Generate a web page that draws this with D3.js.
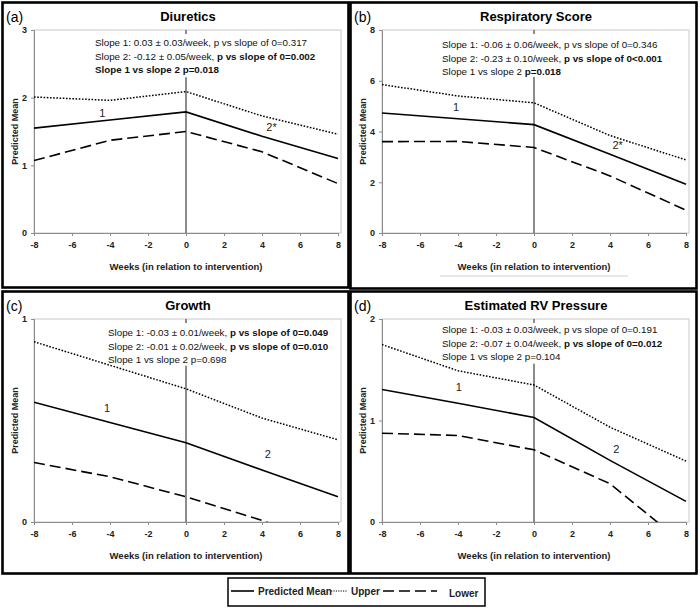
<!DOCTYPE html>
<html>
<head>
<meta charset="utf-8">
<script src="https://cdn.jsdelivr.net/npm/d3@7/dist/d3.min.js"></script>
<style>
  body { margin: 0; background: #fff; }
  svg { font-family: "Liberation Sans Narrow", "Arial Narrow", "Liberation Sans", Arial, sans-serif; }
</style>
</head>
<body>
<div id="chart"></div>
<script>
// Chart data
const weeks = [-8, -4, 0, 4, 8];
const xTicks = [-8, -6, -4, -2, 0, 2, 4, 6, 8];

const diureticsMean = [1.55, 1.67, 1.79, 1.43, 1.10];
const diureticsUpper = [2.01, 1.96, 2.09, 1.73, 1.46];
const diureticsLower = [1.07, 1.37, 1.50, 1.20, 0.73];
const diureticsTicks = [0, 1, 2, 3];

const respMean = [4.73, 4.50, 4.27, 3.10, 1.92];
const respUpper = [5.85, 5.40, 5.13, 3.84, 2.88];
const respLower = [3.60, 3.61, 3.37, 2.25, 0.90];
const respTicks = [0, 2, 4, 6, 8];

const growthMean = [0.59, 0.49, 0.39, 0.256, 0.124];
const growthUpper = [0.888, 0.772, 0.656, 0.512, 0.405];
const growthLower = [0.293, 0.223, 0.124, 0.008, -0.13];
const growthTicks = [0, 1];

const rvMean = [1.305, 1.17, 1.03, 0.607, 0.203];
const rvUpper = [1.748, 1.49, 1.35, 0.934, 0.60];
const rvLower = [0.875, 0.852, 0.711, 0.377, -0.23];
const rvTicks = [0, 1, 2];

const legendLabels = ['Predicted Mean', 'Upper', 'Lower'];

// annotation lines: each an array of [text, bold]
const panels = [
  {
    letter: '(a)', title: 'Diuretics', ox: 0, oy: 0, h: 285,
    yMax: 3, ticks: diureticsTicks, vTop: 2.3,
    mean: diureticsMean, upper: diureticsUpper, lower: diureticsLower,
    label1: { x: -4.4, y: 1.75, t: '1' }, label2: { x: 4.5, y: 1.55, t: '2*' },
    noteX: 95, noteY: 43,
    notes: [
      [['Slope 1: 0.03 ± 0.03/week, p vs slope of 0=0.317', false]],
      [['Slope 2: -0.12 ± 0.05/week, ', false], ['p vs slope of 0=0.002', true]],
      [['Slope 1 vs slope 2 p=0.018', true]]
    ]
  },
  {
    letter: '(b)', title: 'Respiratory Score', ox: 348, oy: 0, h: 286,
    yMax: 8, ticks: respTicks, vTop: 6.15,
    mean: respMean, upper: respUpper, lower: respLower,
    label1: { x: -4.1, y: 4.92, t: '1' }, label2: { x: 4.4, y: 3.44, t: '2*' },
    noteX: 94, noteY: 45, underline: true,
    notes: [
      [['Slope 1: -0.06 ± 0.06/week, p vs slope of 0=0.346', false]],
      [['Slope 2: -0.23 ± 0.10/week, ', false], ['p vs slope of 0<0.001', true]],
      [['Slope 1 vs slope 2 ', false], ['p=0.018', true]]
    ]
  },
  {
    letter: '(c)', title: 'Growth', ox: 0, oy: 289, h: 282,
    yMax: 1, ticks: growthTicks, vTop: 0.77,
    mean: growthMean, upper: growthUpper, lower: growthLower,
    label1: { x: -4.15, y: 0.554, t: '1' }, label2: { x: 4.3, y: 0.33, t: '2' },
    noteX: 108, noteY: 44,
    notes: [
      [['Slope 1: -0.03 ± 0.01/week, ', false], ['p vs slope of 0=0.049', true]],
      [['Slope 2: -0.01 ± 0.02/week, ', false], ['p vs slope of 0=0.010', true]],
      [['Slope 1 vs slope 2 p=0.698', false]]
    ]
  },
  {
    letter: '(d)', title: 'Estimated RV Pressure', ox: 348, oy: 289, h: 282,
    yMax: 2, ticks: rvTicks, vTop: 1.56,
    mean: rvMean, upper: rvUpper, lower: rvLower,
    label1: { x: -3.96, y: 1.318, t: '1' }, label2: { x: 4.33, y: 0.705, t: '2' },
    noteX: 94, noteY: 41,
    notes: [
      [['Slope 1: -0.03 ± 0.03/week, p vs slope of 0=0.191', false]],
      [['Slope 2: -0.07 ± 0.04/week, ', false], ['p vs slope of 0=0.012', true]],
      [['Slope 1 vs slope 2 p=0.104', false]]
    ]
  }
];

const width = 700;
const height = 610;
const plot = { left: 34, right: 338, top: 30, bottom: 233 };

const svg = d3.select('#chart')
  .append('svg')
  .attr('width', width)
  .attr('height', height);

function drawPanel(p, i) {
  const g = svg.append('g').attr('transform', `translate(${p.ox},${p.oy})`);

  // outer panel border
  g.append('rect')
    .attr('x', 2.5).attr('y', 2.5)
    .attr('width', 346).attr('height', p.h)
    .attr('fill', 'none')
    .attr('stroke', '#000')
    .attr('stroke-width', 2.6);

  const x = d3.scaleLinear().domain([-8, 8]).range([plot.left, plot.right]);
  const y = d3.scaleLinear().domain([0, p.yMax]).range([plot.bottom, plot.top]);

  // plot frame
  g.append('rect')
    .attr('x', plot.left).attr('y', plot.top)
    .attr('width', plot.right - plot.left + 3)
    .attr('height', plot.bottom - plot.top)
    .attr('fill', 'none')
    .attr('stroke', '#c8c8c8')
    .attr('stroke-width', 1);

  // axes
  const fmt = d => String(d);
  const xAxis = g.append('g')
    .attr('transform', `translate(0,${plot.bottom})`)
    .call(d3.axisBottom(x).tickValues(xTicks).tickFormat(fmt).tickSize(3).tickPadding(6));
  const yAxis = g.append('g')
    .attr('transform', `translate(${plot.left},0)`)
    .call(d3.axisLeft(y).tickValues(p.ticks).tickFormat(fmt).tickSize(3).tickPadding(4));
  [xAxis, yAxis].forEach(ax => {
    ax.select('.domain').attr('stroke', '#8c8c8c');
    ax.selectAll('.tick line').attr('stroke', '#8c8c8c');
    ax.selectAll('.tick text')
      .attr('font-family', null)
      .attr('font-size', 9)
      .attr('font-weight', 'bold')
      .attr('fill', '#222');
  });

  // axis titles
  g.append('text')
    .attr('x', (plot.left + plot.right) / 2)
    .attr('y', 270)
    .attr('text-anchor', 'middle')
    .attr('font-size', 9.5)
    .attr('font-weight', 'bold')
    .attr('fill', '#222')
    .text('Weeks (in relation to intervention)');

  g.append('text')
    .attr('transform', `translate(18,${(plot.top + plot.bottom) / 2}) rotate(-90)`)
    .attr('text-anchor', 'middle')
    .attr('font-size', 9)
    .attr('font-weight', 'bold')
    .attr('fill', '#222')
    .text('Predicted Mean');

  if (p.underline) {
    g.append('line')
      .attr('x1', 92).attr('x2', 280)
      .attr('y1', 276).attr('y2', 276)
      .attr('stroke', '#d0d0d0')
      .attr('stroke-width', 1);
  }

  // title and panel letter
  g.append('text')
    .attr('x', 188).attr('y', 21)
    .attr('text-anchor', 'middle')
    .attr('font-size', 13)
    .attr('font-weight', 'bold')
    .text(p.title);

  g.append('text')
    .attr('x', 6).attr('y', 22)
    .attr('font-size', 14)
    .text(p.letter);

  // intervention line at week 0
  g.append('line')
    .attr('x1', x(0)).attr('x2', x(0))
    .attr('y1', plot.top).attr('y2', plot.top + 4)
    .attr('stroke', '#666').attr('stroke-width', 1.5);
  g.append('line')
    .attr('x1', x(0)).attr('x2', x(0))
    .attr('y1', y(p.vTop)).attr('y2', plot.bottom)
    .attr('stroke', '#666').attr('stroke-width', 1.5);

  // series
  const clipId = 'clip' + i;
  g.append('clipPath').attr('id', clipId)
    .append('rect')
    .attr('x', plot.left).attr('y', plot.top)
    .attr('width', plot.right - plot.left + 2)
    .attr('height', plot.bottom - plot.top);

  const line = d3.line()
    .x((d, k) => x(weeks[k]))
    .y(d => y(d));

  const series = [
    { values: p.upper, dash: '1.6,1.6', w: 1.5 },
    { values: p.lower, dash: '11,5', w: 1.6 },
    { values: p.mean, dash: null, w: 1.6 }
  ];
  series.forEach(s => {
    g.append('path')
      .datum(s.values)
      .attr('clip-path', `url(#${clipId})`)
      .attr('fill', 'none')
      .attr('stroke', '#000')
      .attr('stroke-width', s.w)
      .attr('stroke-dasharray', s.dash)
      .attr('d', line);
  });

  // segment labels
  [p.label1, p.label2].forEach(l => {
    g.append('text')
      .attr('x', x(l.x)).attr('y', y(l.y))
      .attr('text-anchor', 'middle')
      .attr('dominant-baseline', 'middle')
      .attr('font-size', 11)
      .attr('fill', '#222')
      .text(l.t);
  });

  // slope notes
  p.notes.forEach((parts, k) => {
    const t = g.append('text')
      .attr('x', p.noteX)
      .attr('y', p.noteY + k * 13.5)
      .attr('dominant-baseline', 'middle')
      .attr('font-size', 9.8)
      .attr('fill', '#111');
    parts.forEach(([str, bold]) => {
      t.append('tspan')
        .attr('font-weight', bold ? 'bold' : 'normal')
        .text(str);
    });
  });
}

panels.forEach(drawPanel);

// legend
const legend = svg.append('g');
legend.append('rect')
  .attr('x', 228).attr('y', 578)
  .attr('width', 257).attr('height', 28)
  .attr('fill', 'none')
  .attr('stroke', '#000')
  .attr('stroke-width', 1.5);

const legendItems = [
  { x1: 231, x2: 254, tx: 258, dash: null, w: 1.6 },
  { x1: 331, x2: 347, tx: 351, dash: '1.2,1.2', w: 1.2 },
  { x1: 383, x2: 437, tx: 449, dash: '11,5', w: 1.6 }
];
legendItems.forEach((it, k) => {
  legend.append('line')
    .attr('x1', it.x1).attr('x2', it.x2)
    .attr('y1', 591).attr('y2', 591)
    .attr('stroke', '#000')
    .attr('stroke-width', it.w)
    .attr('stroke-dasharray', it.dash);
  legend.append('text')
    .attr('x', it.tx).attr('y', k === 2 ? 594 : 592)
    .attr('dominant-baseline', 'middle')
    .attr('font-size', 10)
    .attr('font-weight', 'bold')
    .attr('fill', '#222')
    .text(legendLabels[k]);
});
</script>
</body>
</html>
